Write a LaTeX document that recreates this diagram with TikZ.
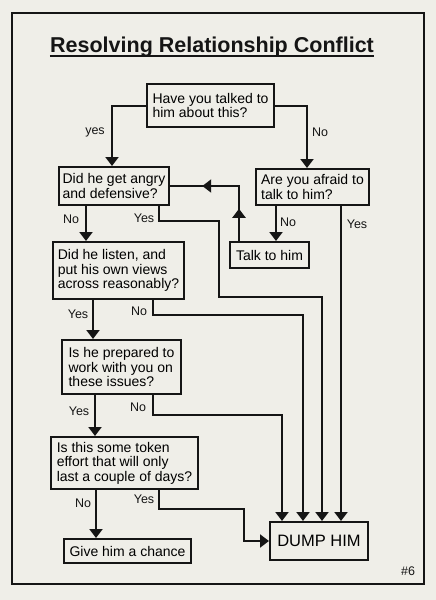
\documentclass[tikz,border=0pt]{standalone}
\usepackage{fontspec}
\setmainfont{Liberation Sans}
\usetikzlibrary{arrows.meta, decorations.markings}
\definecolor{paper}{HTML}{EFEEE8}
\definecolor{ink}{HTML}{151515}
\tikzset{
  qbox/.style = {draw = ink, line width = 2pt, fill = paper, anchor = north west,
                 align = left, inner xsep = 3pt, inner ysep = 1pt,
                 font = \fontsize{14}{14.5}\selectfont},
  lbl/.style = {inner sep = 0, text = ink, font = \fontsize{12.5}{13}\selectfont},
  link/.style = {draw = ink, line width = 2pt},
  >={Triangle[width = 13pt, length = 9pt]}
}

\begin{document}
\begin{tikzpicture}[x = 1pt, y = -1pt]
    \fill [paper] (0, 0) rectangle (436, 600);
    \useasboundingbox (0, 0) rectangle (436, 600);
    \draw [ink, line width = 2pt] (12, 12.5) rectangle (424, 584);

    \node [inner sep = 0, anchor = base, text = ink, font = \fontsize{21.5}{22}\selectfont\bfseries]
      (title) at (212, 52.5) {Resolving Relationship Conflict};
    \draw [ink, line width = 2pt] ([yshift = -3.5pt] title.base west) -- ([yshift = -3.5pt] title.base east);

    \node [qbox, minimum width = 127pt, minimum height = 43pt] (talked) at (146, 83) {Have you talked to\\him about this?};
    \node [qbox, minimum width = 110pt, minimum height = 38pt] (angry) at (58, 166) {Did he get angry\\and defensive?};
    \node [qbox, minimum width = 113pt, minimum height = 36pt] (afraid) at (255, 168) {Are you afraid to\\talk to him?};
    \node [qbox, minimum width = 79pt, minimum height = 26pt] (talk) at (229, 241) {Talk to him};
    \node [qbox, minimum width = 131pt, minimum height = 57pt] (listen) at (52, 241) {Did he listen, and\\put his own views\\across reasonably?};
    \node [qbox, minimum width = 119pt, minimum height = 54pt] (prepared) at (61, 339) {Is he prepared to\\work with you on\\these issues?};
    \node [qbox, minimum width = 147pt, minimum height = 52pt] (token) at (50, 436) {Is this some token\\effort that will only\\last a couple of days?};
    \node [qbox, minimum width = 127pt, minimum height = 24pt] (chance) at (63, 538) {Give him a chance};
    \node [qbox, minimum width = 98pt, minimum height = 38pt,
           font = \fontsize{16.5}{17}\selectfont] (dump) at (269, 521) {DUMP HIM};

    \draw [link, ->] (talked.west) -| (112, 0 |- angry.north);
    \draw [link, ->] (talked.east) -| (307, 0 |- afraid.north);
    \draw [link, postaction = {decorate},
           decoration = {markings, mark = at position 0.26 with {\arrow{>}},
                         mark = at position 0.74 with {\arrow{>}}}]
      (239, 0 |- talk.north) |- (angry.east);
    \draw [link, ->] (276, 0 |- afraid.south) -- (276, 0 |- talk.north);
    \draw [link, ->] (341, 0 |- afraid.south) -- (341, 0 |- dump.north);
    \draw [link, ->] (86, 0 |- angry.south) -- (86, 0 |- listen.north);
    \draw [link, ->] (159, 0 |- angry.south) |- (219, 221) |- (322, 297) -- (322, 0 |- dump.north);
    \draw [link, ->] (93, 0 |- listen.south) -- (93, 0 |- prepared.north);
    \draw [link, ->] (153, 0 |- listen.south) |- (303, 315) -- (303, 0 |- dump.north);
    \draw [link, ->] (95, 0 |- prepared.south) -- (95, 0 |- token.north);
    \draw [link, ->] (153, 0 |- prepared.south) |- (282, 415) -- (282, 0 |- dump.north);
    \draw [link, ->] (96, 0 |- token.south) -- (96, 0 |- chance.north);
    \draw [link, ->] (159, 0 |- token.south) |- (244, 509) |- (dump.west);

    \node [lbl] (yes1) at (95, 132) {yes};
    \node [lbl] (no1) at (320, 132) {No};
    \node [lbl] (no2) at (71, 219) {No};
    \node [lbl] (yes2) at (144, 218) {Yes};
    \node [lbl] (no3) at (288, 222) {No};
    \node [lbl] (yes3) at (357, 224) {Yes};
    \node [lbl] (yes4) at (78, 314) {Yes};
    \node [lbl] (no4) at (139, 311) {No};
    \node [lbl] (yes5) at (79, 411) {Yes};
    \node [lbl] (no5) at (138, 407) {No};
    \node [lbl] (no6) at (83, 503) {No};
    \node [lbl] (yes6) at (144, 499) {Yes};
    \node [lbl] (num) at (408, 571) {\#6};
\end{tikzpicture}
\end{document}
